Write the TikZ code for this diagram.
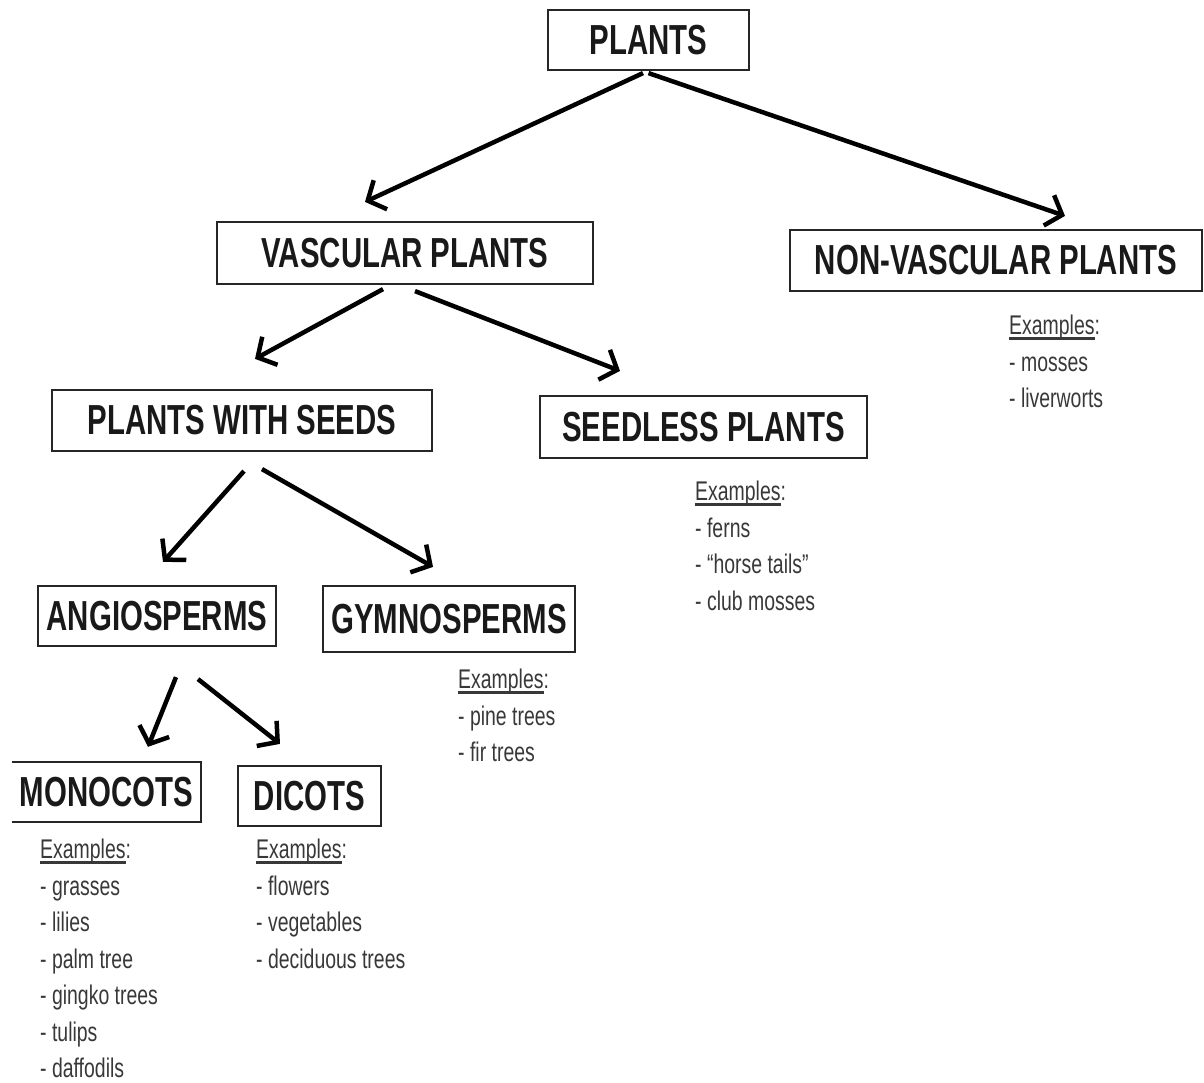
\documentclass[tikz,border=0pt]{standalone}
\usepackage{fontspec}
\setmainfont{Liberation Sans}[FakeStretch=0.72]
\newfontfamily\boxfont{Liberation Sans}[FakeStretch=0.70]
\usetikzlibrary{arrows.meta,calc}
\newlength{\exw}
\newcommand{\exhead}{\settowidth{\exw}{Examples}\rlap{\rule[-5pt]{\exw}{3pt}}Examples:}
\begin{document}
\begin{tikzpicture}[x=1pt,y=-1pt,
  boxline/.style={draw=black!85, line width=2.2pt},
  boxtext/.style={inner sep=0pt, font=\boxfont\bfseries\fontsize{42}{48}\selectfont, text=black!90},
  box/.style={boxline, boxtext},
  arr/.style={line width=4.5pt, -{Straight Barb[length=14pt,width=32pt]}},
  ex/.style={anchor=north west, align=left, inner sep=0pt, text=black!78, font=\fontsize{27}{36.5}\selectfont}]
\useasboundingbox (0,0) rectangle (1204,1082);

% boxes
\node[box, minimum width=201pt, minimum height=60pt] (plants) at (648.5,40) {PLANTS};
\node[box, minimum width=376pt, minimum height=62pt] (vasc) at (405,253) {VASCULAR PLANTS};
\node[box, minimum width=412pt, minimum height=61pt] (nonv) at (996,260.5) {NON-VASCULAR PLANTS};
\node[box, minimum width=380pt, minimum height=61pt] (pws) at (242,420.5) {PLANTS WITH SEEDS};
\node[box, minimum width=327pt, minimum height=62pt] (seedless) at (703.5,427) {SEEDLESS PLANTS};
\node[box, minimum width=238pt, minimum height=60pt] (angio) at (157,616) {ANGIOSPERMS};
\node[box, minimum width=252pt, minimum height=66pt] (gymno) at (449,619) {GYMNOSPERMS};
\node[boxtext, minimum width=189pt, minimum height=60pt] (mono) at (106.5,792) {MONOCOTS};
\draw[boxline] (mono.north west) -- (mono.north east) -- (mono.south east) -- (mono.south west);
\node[box, minimum width=143pt, minimum height=60pt] (dicots) at (309.5,796) {DICOTS};

% arrows
\draw[arr] ($(plants.south)+(-5.5,2)$) -- ($(vasc.north)+(-40,-19)$);
\draw[arr] ($(plants.south)+(0,2)$) -- ($(nonv.north)+(69,-13)$);
\draw[arr] ($(vasc.south)+(-22,4)$) -- ($(pws.north)+(13,-30)$);
\draw[arr] ($(vasc.south)+(10,6)$) -- ($(seedless.north)+(-83.5,-24)$);
\draw[arr] ($(pws.south)+(2,19)$) -- ($(angio.north)+(6,-23)$);
\draw[arr] ($(pws.south)+(20,17)$) -- ($(gymno.north)+(-16,-18)$);
\draw[arr] ($(angio.south)+(19,30)$) -- ($(mono.north)+(41.5,-15)$);
\draw[arr] ($(angio.south)+(41,32)$) -- ($(dicots.north)+(-29.5,-21)$);

% examples
\node[ex] (nonvex) at (1009,315) {\exhead\\- mosses\\- liverworts};
\node[ex] (seedlessex) at (695,481) {\exhead\\- ferns\\- “horse tails”\\- club mosses};
\node[ex] (gymnoex) at (458,669) {\exhead\\- pine trees\\- fir trees};
\node[ex] (monoex) at (40,839) {\exhead\\- grasses\\- lilies\\- palm tree\\- gingko trees\\- tulips\\- daffodils};
\node[ex] (dicotex) at (256,839) {\exhead\\- flowers\\- vegetables\\- deciduous trees};
\end{tikzpicture}
\end{document}
